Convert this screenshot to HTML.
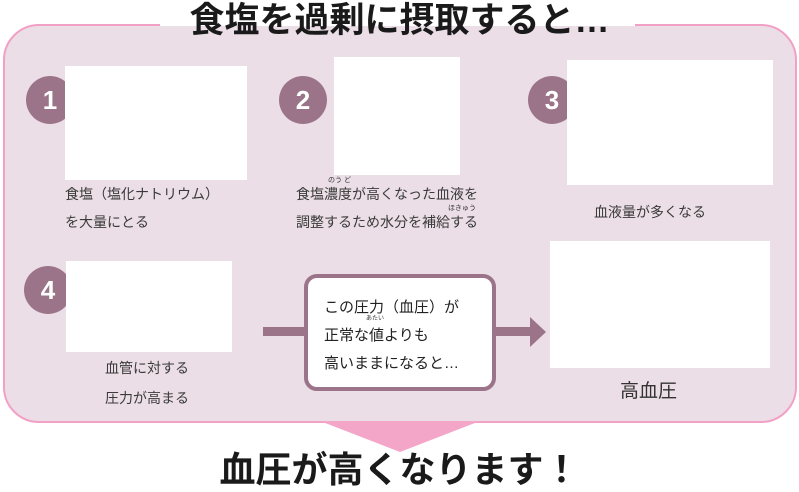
<!DOCTYPE html>
<html><head><meta charset="utf-8"><style>
body{margin:0;width:799px;height:492px;background:#fff;position:relative;overflow:hidden;font-family:"Liberation Sans","Noto Sans CJK JP",sans-serif;color:#333}
.a{position:absolute}
.panel{left:3px;top:24px;width:790px;height:395px;background:#ebdee6;border:2px solid #f2a0c6;border-radius:36px}
.w{background:#fff}
.c{width:48px;height:48px;border-radius:50%;background:#9c7489;color:#fff;font-weight:bold;font-size:26px;text-align:center;line-height:48px}
.t{font-size:14px;white-space:nowrap;color:#3a3a3a}
.title{font-weight:bold;color:#1a1a1a;white-space:nowrap}
</style></head><body>
<div class="a panel"></div>
<div class="a" style="left:160px;top:0;width:475px;height:26px;background:#fff"></div>
<div class="a title" style="left:0;width:799px;text-align:center;top:0px;font-size:35px;line-height:42px">食塩を過剰に摂取すると…</div>
<div class="a c" style="left:26px;top:76px">1</div>
<div class="a c" style="left:279px;top:76px">2</div>
<div class="a c" style="left:528px;top:76px">3</div>
<div class="a c" style="left:24px;top:266px">4</div>
<div class="a w" style="left:65px;top:66px;width:182px;height:114px"></div>
<div class="a w" style="left:334px;top:57px;width:126px;height:118px"></div>
<div class="a w" style="left:567px;top:60px;width:206px;height:125px"></div>
<div class="a w" style="left:66px;top:261px;width:166px;height:91px"></div>
<div class="a w" style="left:550px;top:241px;width:220px;height:127px"></div>
<div class="a t" style="left:65px;top:184px">食塩（塩化ナトリウム）</div>
<div class="a t" style="left:65px;top:212px">を大量にとる</div>
<div class="a t" style="left:296px;top:184px">食塩濃度が高くなった血液を</div>
<div class="a" style="left:328px;top:175px;font-size:7px">のう ど</div>
<div class="a t" style="left:296px;top:212px">調整するため水分を補給する</div>
<div class="a" style="left:448px;top:203px;font-size:7px">ほきゅう</div>
<div class="a t" style="left:594px;top:202px">血液量が多くなる</div>
<div class="a t" style="left:105px;top:358px">血管に対する</div>
<div class="a t" style="left:105px;top:388px">圧力が高まる</div>
<div class="a" style="left:620px;top:376px;font-size:19px;color:#333">高血圧</div>
<div class="a" style="left:263px;top:327px;width:44px;height:9px;background:#9c7489"></div>
<div class="a" style="left:492px;top:327px;width:40px;height:9px;background:#9c7489"></div>
<div class="a" style="left:530px;top:317px;width:0;height:0;border-top:15px solid transparent;border-bottom:15px solid transparent;border-left:16px solid #9c7489"></div>
<div class="a" style="left:304px;top:274px;width:184px;height:109px;background:#fff;border:4px solid #9c7489;border-radius:13px"></div>
<div class="a t" style="left:324px;top:294px;font-size:15px;line-height:28px;color:#222">この圧力（血圧）が<br>正常な値よりも<br>高いままになると…</div>
<div class="a" style="left:366px;top:313px;font-size:6px">あたい</div>
<div class="a" style="left:320px;top:421px;width:0;height:0;border-left:80px solid transparent;border-right:80px solid transparent;border-top:31px solid #f4a6c8"></div>
<div class="a title" style="left:0;width:799px;text-align:center;top:448px;font-size:36px;line-height:44px">血圧が高くなります！</div>
</body></html>
